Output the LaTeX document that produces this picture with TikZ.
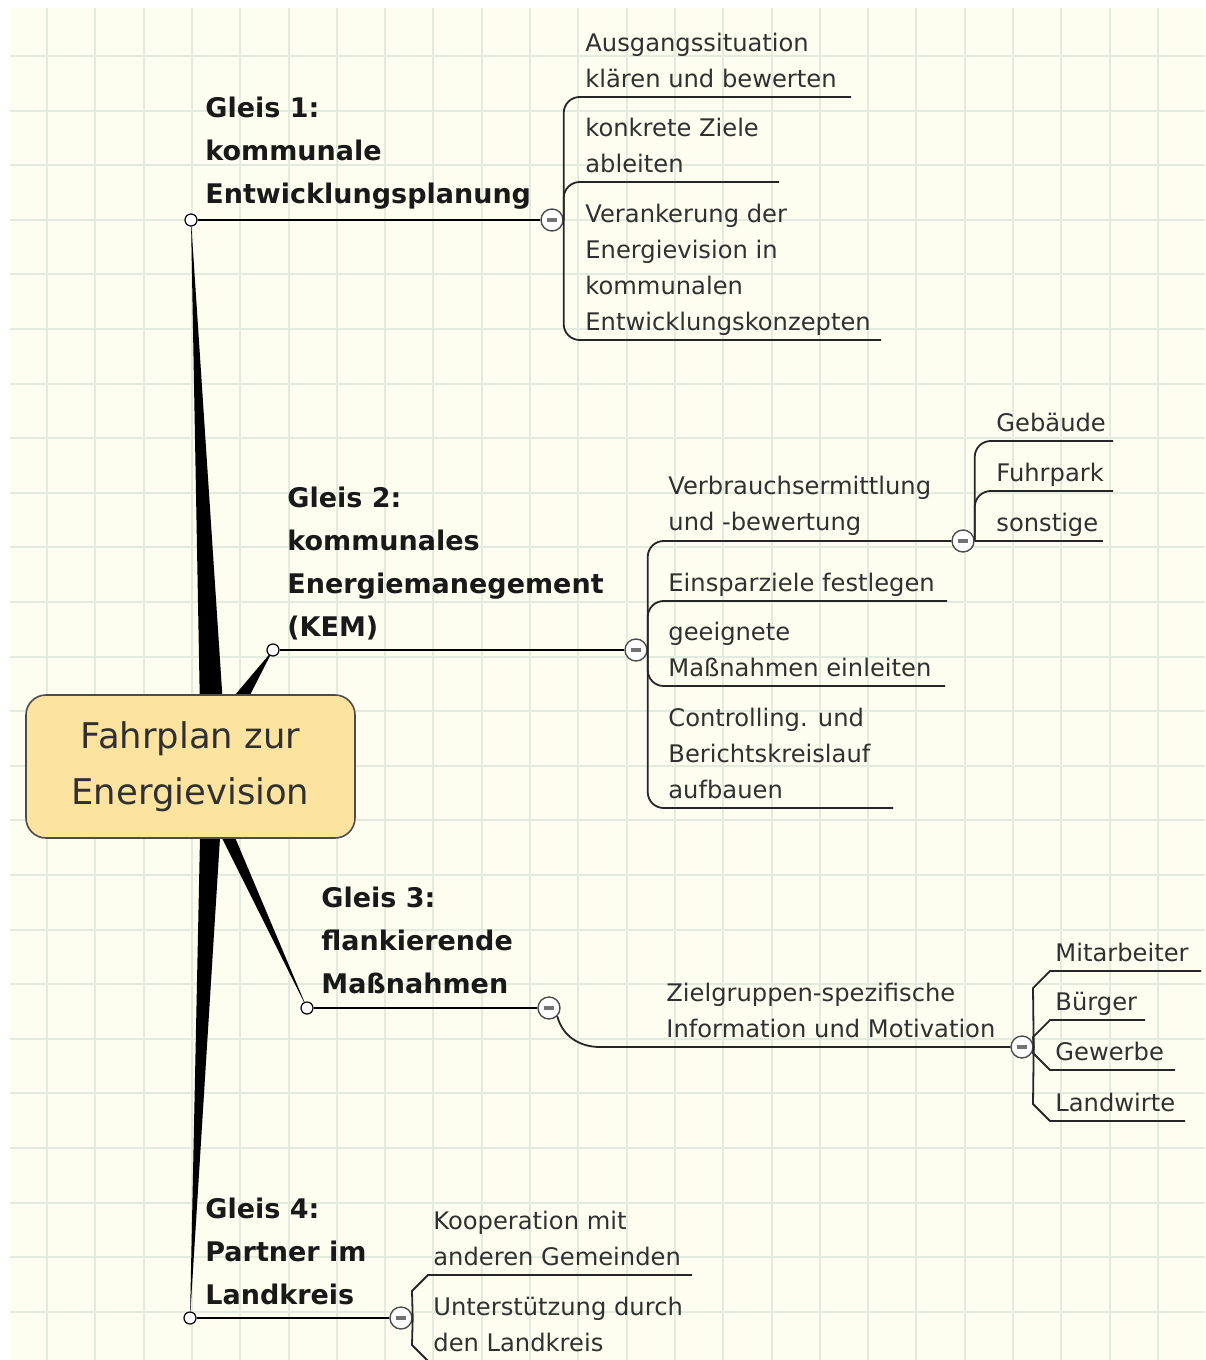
\documentclass[tikz,border=0pt]{standalone}
\usepackage{fontspec}
\setmainfont{DejaVu Sans}
\usepackage{xcolor}
\usepackage{tikz}
\usetikzlibrary{calc, positioning}

\definecolor{paper}{RGB}{254,254,240}
\definecolor{gridgreen}{RGB}{226,235,221}
\definecolor{hubfill}{RGB}{252,227,160}
\definecolor{inkgray}{RGB}{48,48,48}

\begin{document}
\begin{tikzpicture}[x=0.5pt, y=-0.5pt,
    hub/.style={draw=black!70, line width=0.8pt, fill=hubfill, rounded corners=10pt,
        minimum width=164.5pt, minimum height=71.5pt, align=center, text=inkgray,
        font=\fontsize{17.7}{28}\selectfont},
    gleis/.style={anchor=base west, inner sep=0pt, align=left, text=black!90,
        font=\fontsize{13.5}{21.5}\selectfont\bfseries},
    leaf/.style={anchor=base west, inner sep=0pt, align=left, text=inkgray,
        font=\fontsize{12.1}{18}\selectfont},
    dot/.style={circle, draw=black, line width=0.6pt, fill=white, inner sep=0pt, minimum size=6pt},
    fold/.style={circle, draw=black!70, line width=0.7pt, fill=white, inner sep=0pt, minimum size=11pt,
        path picture={\draw[black!55, line width=1.6pt]
            ([xshift=-2.7pt]path picture bounding box.center) -- ([xshift=2.7pt]path picture bounding box.center);}},
    stem/.style={line width=1pt, black},
    twig/.style={line width=0.9pt, black!85},
    spoke/.style={fill=black}
]

    % ---------------------------------------------------------------
    % Papier mit Raster
    % ---------------------------------------------------------------
    \useasboundingbox (0,0) rectangle (1205,1360);
    \fill[white] (0,0) rectangle (1205,1360);
    \fill[paper] (10,8) rectangle (1205,1360);
    \foreach \i in {0,...,23}
        \draw[gridgreen, line width=1pt] ({47+48.3*\i},8) -- ({47+48.3*\i},1360);
    \foreach \j in {0,...,23}
        \draw[gridgreen, line width=1pt] (10,{56+54.6*\j}) -- (1205,{56+54.6*\j});

    % ---------------------------------------------------------------
    % Ankerpunkte der Gleise
    % ---------------------------------------------------------------
    \coordinate (g1) at (191,220);
    \coordinate (g2) at (273,650);
    \coordinate (g3) at (307,1008);
    \coordinate (g4) at (190,1318);

    % dicke Speichen vom Zentrum zu den Gleisen
    \fill[spoke] (g1) -- (201,766) -- (227,766) -- cycle;
    \fill[spoke] (g2) -- (197,740) -- (227,740) -- cycle;
    \fill[spoke] (g3) -- (198,790) -- (215,790) -- cycle;
    \fill[spoke] (g4) -- (201,790) -- (223,790) -- cycle;

    % Zentrum
    \node[hub] (hub) at (190.5,766.5) {Fahrplan zur\\Energievision};

    \node[dot] (g1dot) at (g1) {};
    \node[dot] (g2dot) at (g2) {};
    \node[dot] (g3dot) at (g3) {};
    \node[dot] (g4dot) at (g4) {};

    % Klappknoten
    \node[fold] (g1m) at (552,220) {};
    \node[fold] (g2m) at (636,650) {};
    \node[fold] (g2s) at (963,541) {};
    \node[fold] (g3m) at (549,1008) {};
    \node[fold] (g3s) at (1022,1047) {};
    \node[fold] (g4m) at (401,1318) {};

    \draw[stem] (g1dot) -- (g1m);
    \draw[stem] (g2dot) -- (g2m);
    \draw[stem] (g3dot) -- (g3m);
    \draw[stem] (g4dot) -- (g4m);

    % ---------------------------------------------------------------
    % Unterstriche der Zweige
    % ---------------------------------------------------------------
    % Gleis 1
    \draw[twig, rounded corners=8pt] (g1m.east) |- (851,97);
    \draw[twig, rounded corners=8pt] (g1m.east) |- (779,182);
    \draw[twig, rounded corners=8pt] (g1m.east) |- (881,340);

    % Gleis 2
    \draw[twig, rounded corners=8pt] (g2m.east) |- (g2s);
    \draw[twig, rounded corners=8pt] (g2m.east) |- (947,601);
    \draw[twig, rounded corners=8pt] (g2m.east) |- (945,686);
    \draw[twig, rounded corners=8pt] (g2m.east) |- (893,808);
    \draw[twig, rounded corners=8pt] (g2s.east) |- (1113,441);
    \draw[twig, rounded corners=8pt] (g2s.east) |- (1113,491);
    \draw[twig] (g2s.east) -- (1103,541);

    % Gleis 3
    \draw[twig] (g3m.south east) to[out=-75, in=180] (600,1047) -- (g3s);
    \draw[twig] (g3s.east) -- (1033,988) -- (1050,971) -- (1201,971);
    \draw[twig] (g3s.east) -- (1033,1037) -- (1050,1020) -- (1145,1020);
    \draw[twig] (g3s.east) -- (1033,1053) -- (1050,1070) -- (1175,1070);
    \draw[twig] (g3s.east) -- (1033,1104) -- (1050,1121) -- (1185,1121);

    % Gleis 4
    \draw[twig] (g4m.east) -- (412,1291) -- (428,1275) -- (692,1275);
    \draw[twig] (g4m.east) -- (412,1345) -- (428,1361) -- (690,1361);

    % ---------------------------------------------------------------
    % Beschriftungen
    % ---------------------------------------------------------------
    \node[gleis] (t1) at (205,203) {Gleis 1:\\kommunale\\Entwicklungsplanung};
    \node[gleis] (t2) at (287,636) {Gleis 2:\\kommunales\\Energiemanegement\\(KEM)};
    \node[gleis] (t3) at (321,993) {Gleis 3:\\flankierende\\Maßnahmen};
    \node[gleis] (t4) at (205,1304) {Gleis 4:\\Partner im\\Landkreis};

    \node[leaf] (c11) at (585,87) {Ausgangssituation\\klären und bewerten};
    \node[leaf] (c12) at (585,172) {konkrete Ziele\\ableiten};
    \node[leaf] (c13) at (585,330) {Verankerung der\\Energievision in\\kommunalen\\Entwicklungskonzepten};

    \node[leaf] (c21) at (668,530) {Verbrauchsermittlung\\und -bewertung};
    \node[leaf] (c22) at (668,591) {Einsparziele festlegen};
    \node[leaf] (c23) at (668,676) {geeignete\\Maßnahmen einleiten};
    \node[leaf] (c24) at (668,798) {Controlling. und\\Berichtskreislauf\\aufbauen};
    \node[leaf] (c2a) at (996,431) {Gebäude};
    \node[leaf] (c2b) at (996,481) {Fuhrpark};
    \node[leaf] (c2c) at (996,531) {sonstige};

    \node[leaf] (c31) at (666,1037) {Zielgruppen-spezifische\\Information und Motivation};
    \node[leaf] (c3a) at (1055,961) {Mitarbeiter};
    \node[leaf] (c3b) at (1055,1010) {Bürger};
    \node[leaf] (c3c) at (1055,1060) {Gewerbe};
    \node[leaf] (c3d) at (1055,1111) {Landwirte};

    \node[leaf] (c41) at (433,1265) {Kooperation mit\\anderen Gemeinden};
    \node[leaf] (c42) at (433,1351) {Unterstützung durch\\den Landkreis};

\end{tikzpicture}
\end{document}
